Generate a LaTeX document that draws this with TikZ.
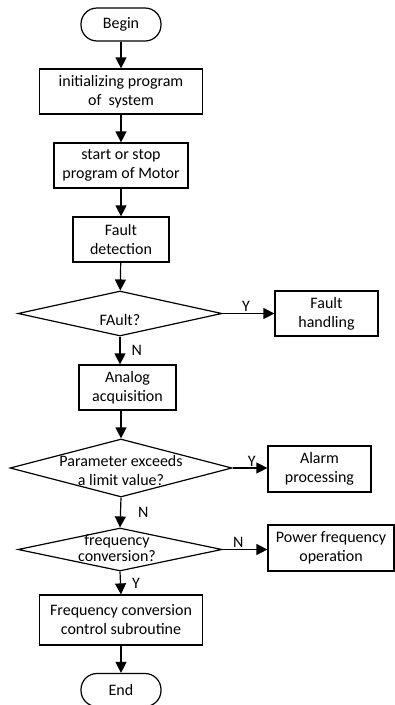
\documentclass[tikz,border=0pt]{standalone}
\usepackage{fontspec}
\setmainfont{Carlito}
\usetikzlibrary{arrows.meta,shapes.geometric}

\tikzset{
    every node/.style={font=\fontsize{16}{19}\selectfont, align=center},
    term/.style={draw, line width=1.2pt, rounded corners=16pt, minimum width=80pt, minimum height=33pt, inner sep=0pt},
    proc/.style={draw, line width=1.2pt, inner sep=0pt},
    decision/.style={draw, diamond, line width=1.2pt, inner sep=0pt},
    flow/.style={line width=1.2pt, -{Triangle[length=11pt,width=11pt]}},
    tag/.style={inner sep=1pt}
}

\begin{document}
\begin{tikzpicture}[x=1pt,y=-1pt]
    \useasboundingbox (0,0) rectangle (395,705);
    \node[term] (begin) at (121,24.5) {Begin};
    \node[proc, minimum width=163pt, minimum height=45pt] (init) at (121,91.5) {initializing program\\of~ system};
    \node[proc, minimum width=134pt, minimum height=45pt] (motor) at (121,165.5) {start or stop\\program of Motor};
    \node[proc, minimum width=96pt, minimum height=45pt] (detect) at (121,239.5) {Fault\\detection};
    \node[decision, minimum width=204pt, minimum height=45pt] (faultq) at (120,313.5) {};
    \node (faultqtext) at (120,320) {FAult?};
    \node[proc, minimum width=103pt, minimum height=45pt] (handle) at (326.5,313.5) {Fault\\handling};
    \node[proc, minimum width=97pt, minimum height=45pt] (analog) at (127.5,387.5) {Analog\\acquisition};
    \node[decision, minimum width=222pt, minimum height=58pt] (limitq) at (121,468) {};
    \node (limitqtext) at (121,470) {Parameter exceeds\\a limit value?};
    \node[proc, minimum width=103pt, minimum height=46pt] (alarm) at (319.5,469) {Alarm\\processing};
    \node[decision, minimum width=204pt, minimum height=43pt] (convq) at (120,549.5) {};
    \node[font=\fontsize{16}{16}\selectfont] (convqtext) at (117,548) {frequency\\conversion?};
    \node[proc, minimum width=126pt, minimum height=46pt] (power) at (331,548) {Power frequency\\operation};
    \node[proc, minimum width=163pt, minimum height=50pt] (subr) at (121,620) {Frequency conversion\\control subroutine};
    \node[term] (end) at (121,690) {End};

    \draw[flow] (begin) -- (init);
    \draw[flow] (init) -- (motor);
    \draw[flow] (motor) -- (detect);
    \draw[flow] (detect) -- (faultq);
    \draw[flow] (faultq) -- (handle) node[tag, pos=0.45, above] (y1) {Y};
    \draw[flow] (faultq.south) -- (faultq.south |- analog.north) node[tag, midway, right=10pt] (n1) {N};
    \draw[flow] (limitq.north |- analog.south) -- (limitq.north);
    \draw[flow] (limitq.east) -- (alarm.west |- limitq.east) node[tag, pos=0.55, above] (y2) {Y};
    \draw[flow] (limitq.south) -- (convq.north) node[tag, midway, right=16pt] (n2) {N};
    \draw[flow] (convq.east) -- (power.west |- convq.east) node[tag, pos=0.35, above] (n3) {N};
    \draw[flow] (convq.south) -- (subr.north) node[tag, midway, right=10pt] (y3) {Y};
    \draw[flow] (subr) -- (end);
\end{tikzpicture}
\end{document}
